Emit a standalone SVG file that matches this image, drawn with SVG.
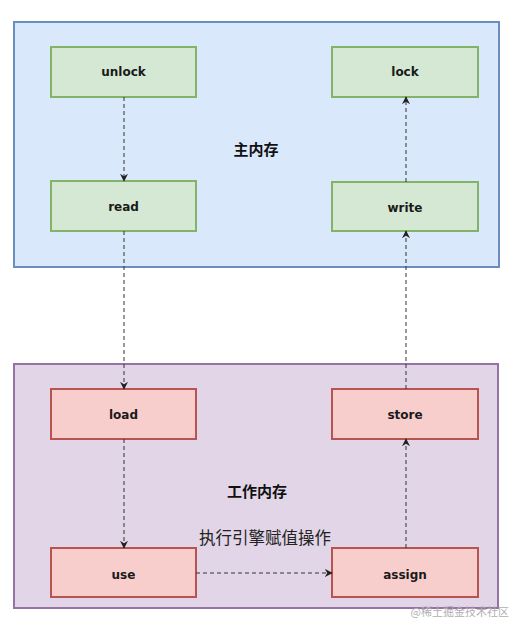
<svg xmlns="http://www.w3.org/2000/svg" width="529" height="634" viewBox="0 0 529 634">
<style>
.cont-main{fill:#dae8fc;stroke:#6c8ebf;stroke-width:2}
.cont-work{fill:#e1d5e7;stroke:#9673a6;stroke-width:2}
.g{fill:#d5e8d4;stroke:#82b366;stroke-width:2}
.r{fill:#f8cecc;stroke:#b85450;stroke-width:2}
.lbl{font-family:"DejaVu Sans","Liberation Sans",sans-serif;font-size:12px;font-weight:bold;fill:#1a1a1a;text-anchor:middle;dominant-baseline:central}
.title{font-family:"Noto Sans CJK SC",sans-serif;font-size:15px;font-weight:bold;fill:#111;text-anchor:middle;dominant-baseline:central}
.edge{fill:none;stroke:#333;stroke-width:1;stroke-dasharray:4 3;marker-end:url(#ah)}
</style>
<defs>
<marker id="ah" viewBox="0 0 10 10" refX="9" refY="5" markerWidth="8" markerHeight="8" orient="auto" markerUnits="userSpaceOnUse">
<path d="M0,0 L10,5 L0,10 L3,5 Z" fill="#222"/>
</marker>
</defs>
<rect width="529" height="634" fill="#ffffff"/>
<g id="main-memory">
<rect class="cont-main" x="14" y="22" width="485" height="245"/>
<text class="title" x="256" y="148">主内存</text>
</g>
<g id="work-memory">
<rect class="cont-work" x="14" y="364" width="484" height="244"/>
<text class="title" x="257" y="490">工作内存</text>
</g>
<g id="unlock"><rect class="g" x="51" y="47" width="145" height="50"/><text class="lbl" x="123.5" y="72">unlock</text></g>
<g id="lock"><rect class="g" x="332" y="47" width="146" height="50"/><text class="lbl" x="405" y="72">lock</text></g>
<g id="read"><rect class="g" x="51" y="181" width="145" height="50"/><text class="lbl" x="123.5" y="207">read</text></g>
<g id="write"><rect class="g" x="332" y="182" width="146" height="49"/><text class="lbl" x="405" y="208">write</text></g>
<g id="load"><rect class="r" x="51" y="389" width="145" height="50"/><text class="lbl" x="123.5" y="415">load</text></g>
<g id="store"><rect class="r" x="332" y="389" width="146" height="50"/><text class="lbl" x="405" y="415">store</text></g>
<g id="use"><rect class="r" x="51" y="548" width="145" height="49"/><text class="lbl" x="123.5" y="575">use</text></g>
<g id="assign"><rect class="r" x="332" y="548" width="146" height="49"/><text class="lbl" x="405" y="575">assign</text></g>
<g id="connectors">
<path class="edge" d="M124,97 L124,181"/>
<path class="edge" d="M124,231 L124,389"/>
<path class="edge" d="M124,439 L124,548"/>
<path class="edge" d="M196,573 L332,573"/>
<path class="edge" d="M406,548 L406,439"/>
<path class="edge" d="M406,389 L406,231"/>
<path class="edge" d="M406,182 L406,97"/>
<text x="265" y="537" font-family="'Noto Sans CJK SC',sans-serif" font-size="16.5" fill="#222" text-anchor="middle" dominant-baseline="central">执行引擎赋值操作</text>
</g>
<text x="509" y="611" font-family="'Noto Sans CJK SC',sans-serif" font-size="11" fill="#b0b0b0" text-anchor="end" dominant-baseline="central">@稀土掘金技术社区</text>
</svg>
